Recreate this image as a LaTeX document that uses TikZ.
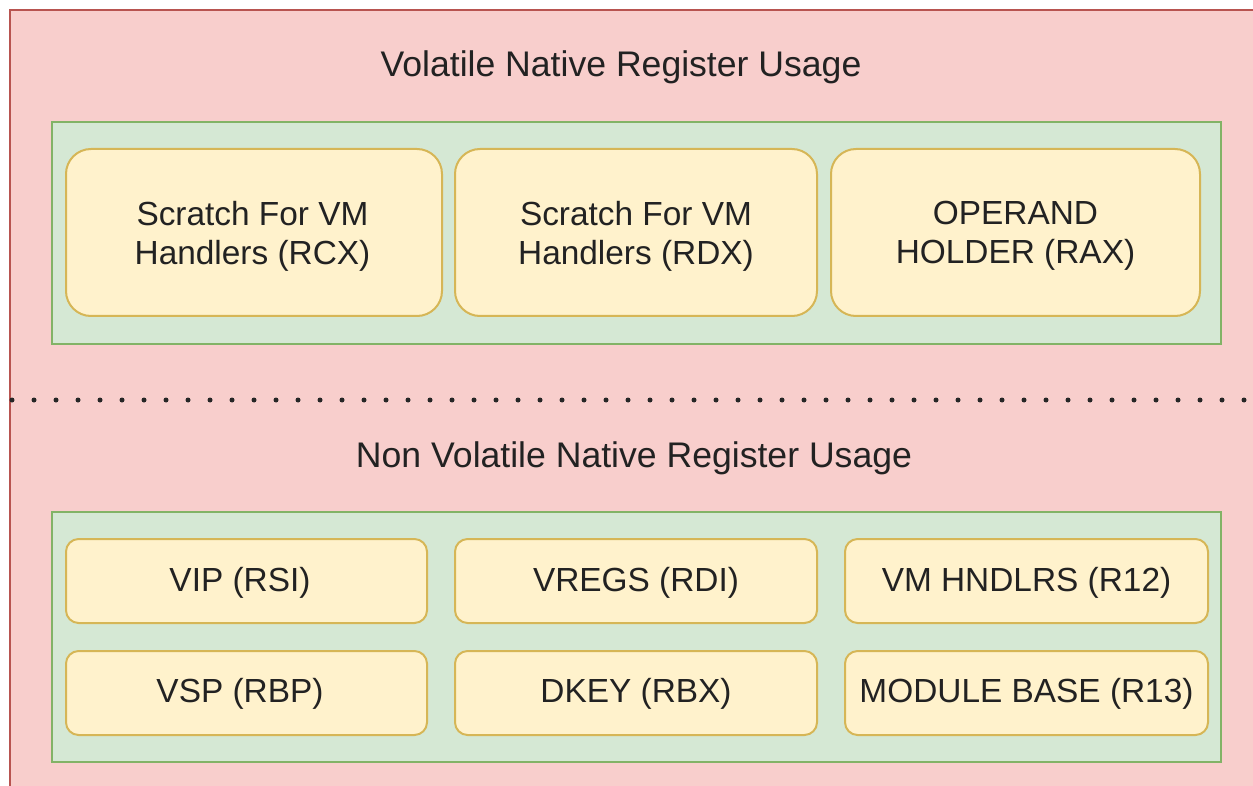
\documentclass[tikz,border=0pt]{standalone}
\usepackage{fontspec}
\setmainfont{Liberation Sans}
\definecolor{outerfill}{HTML}{F8CECC}
\definecolor{outerline}{HTML}{B85450}
\definecolor{groupfill}{HTML}{D5E8D4}
\definecolor{groupline}{HTML}{82B366}
\definecolor{regfill}{HTML}{FFF2CC}
\definecolor{regline}{HTML}{D6B656}
\definecolor{ink}{HTML}{222222}
\tikzset{
  groupbox/.style={draw=groupline, fill=groupfill, line width=1pt},
  regtext/.style={text=ink, font=\fontsize{16.7}{19.5}\selectfont, align=center, inner sep=0pt},
  regbig/.style={draw=regline, fill=regfill, line width=1pt, rounded corners=12.5pt,
    minimum height=83.5pt},
  regsmall/.style={draw=regline, fill=regfill, line width=1pt, rounded corners=6.3pt,
    minimum height=42pt},
  heading/.style={text=ink, font=\fontsize{17.8}{20}\selectfont, inner sep=0pt},
}
\begin{document}
\begin{tikzpicture}[x=0.5pt,y=-0.5pt]
  \useasboundingbox (0,0) rectangle (1253,786);
  \clip (0,0) rectangle (1253,786);
  \fill[white] (0,0) rectangle (1253,786);

  % outer container
  \draw[fill=outerfill, draw=outerline, line width=1.1pt] (10,10) rectangle (1280,810);

  % separator between the two halves
  \coordinate (sepL) at (12,400);
  \coordinate (sepR) at (1270,400);
  \draw[black!85, line width=2.5pt, line cap=round, dash pattern=on 0pt off 11pt] (sepL) -- (sepR);

  % headings
  \node[heading] (voltitle) at (621,67) {Volatile Native Register Usage};
  \node[heading] (nvtitle) at (634,458) {Non Volatile Native Register Usage};

  % volatile group
  \draw[groupbox] (52,122) rectangle (1221,344);
  \node[regbig, minimum width=188pt] (rcx) at (254,232.5) {};
  \node[regbig, minimum width=181pt] (rdx) at (636,232.5) {};
  \node[regbig, minimum width=184.5pt] (rax) at (1015.5,232.5) {};
  \node[regtext] (rcxt) at (252.5,236) {Scratch For VM\\Handlers (RCX)};
  \node[regtext] (rdxt) at (636,236) {Scratch For VM\\Handlers (RDX)};
  \node[regtext] (raxt) at (1015.5,236) {OPERAND\\HOLDER (RAX)};

  % non volatile group
  \draw[groupbox] (52,512) rectangle (1221,762);
  \node[regsmall, minimum width=180.5pt] (rsi) at (246.5,581) {};
  \node[regsmall, minimum width=181pt] (rdi) at (636,581) {};
  \node[regsmall, minimum width=181.5pt] (r12) at (1026.5,581) {};
  \node[regsmall, minimum width=180.5pt] (rbp) at (246.5,693) {};
  \node[regsmall, minimum width=181pt] (rbx) at (636,693) {};
  \node[regsmall, minimum width=181.5pt] (r13) at (1026.5,693) {};
  \node[regtext] (rsit) at (240,583) {VIP (RSI)};
  \node[regtext] (rdit) at (636,583) {VREGS (RDI)};
  \node[regtext] (r12t) at (1026.5,583) {VM HNDLRS (R12)};
  \node[regtext] (rbpt) at (240,694) {VSP (RBP)};
  \node[regtext] (rbxt) at (636,694) {DKEY (RBX)};
  \node[regtext] (r13t) at (1026.5,694) {MODULE BASE (R13)};
\end{tikzpicture}
\end{document}
